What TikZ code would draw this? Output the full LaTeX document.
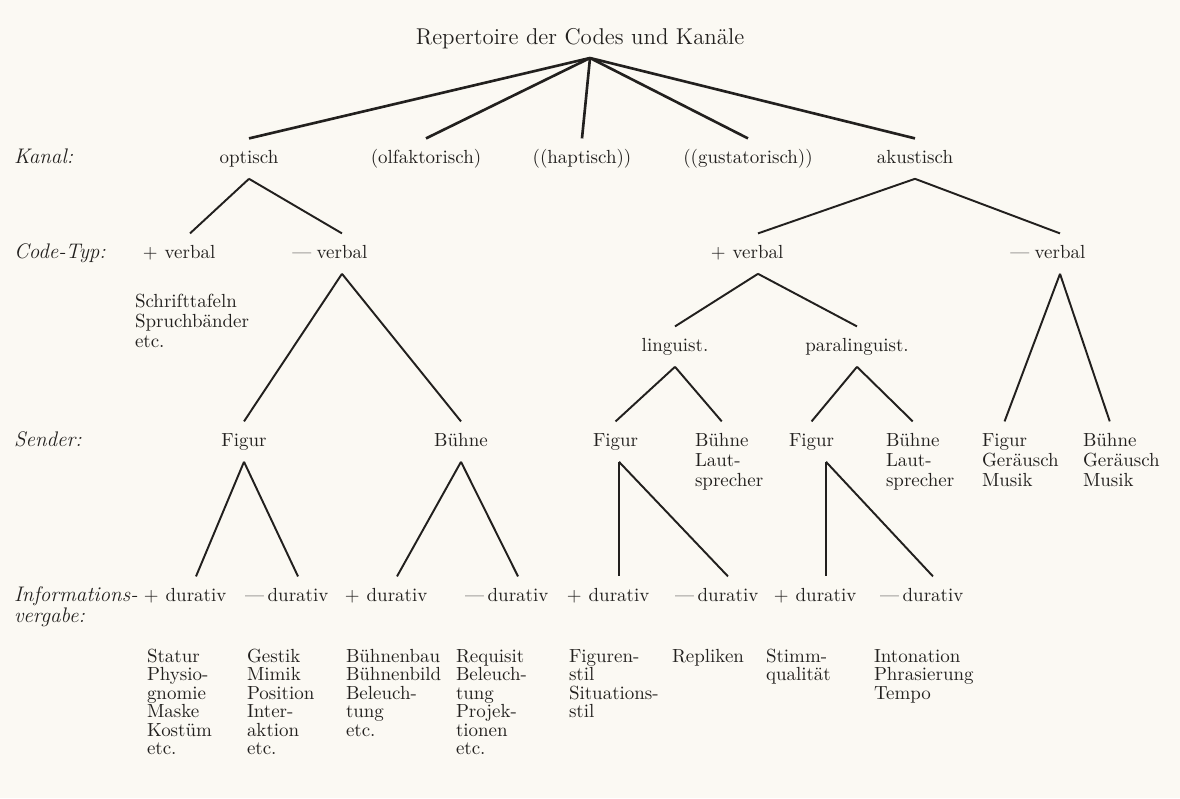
\documentclass[tikz,border=0pt]{standalone}
\usepackage{xcolor}
\usepackage{amssymb}

\definecolor{paper}{RGB}{251,249,243}
\definecolor{ink}{RGB}{34,32,30}

\tikzset{
    word/.style={inner sep=0pt, outer xsep=0pt, outer ysep=7pt,
        text height=7pt, text depth=2pt, text=ink,
        font=\fontsize{10.8}{12}\selectfont},
    head/.style={word, font=\fontsize{12}{13}\selectfont\itshape},
    branch/.style={draw=ink, line width=1.1pt},
    stem/.style={draw=ink, line width=1.5pt}
}

% one column of words, left aligned, one node per line
\newcommand{\wordcolumn}[5][18.5]{%
    \foreach \w [count=\i from 0] in {#5}
        \node[word, anchor=base west] (#2-\i) at (#3, #4+#1*\i) {\w};
}

\begin{document}
\begin{tikzpicture}[x=0.02cm, y=-0.02cm]

    % Paper
    \fill[paper] (0,0) rectangle (1180,798);
    \useasboundingbox (0,0) rectangle (1180,798);

    % Top of the tree
    \node[word, anchor=base, font=\fontsize{13}{14}\selectfont] (title) at (580,44)
        {Repertoire der Codes und Kan\"ale};
    \coordinate (root) at (590,58);

    % Row labels
    \node[head, anchor=base west] (kanal) at (14,163) {Kanal:};
    \node[head, anchor=base west] (codetyp) at (14,258) {Code-Typ:};
    \node[head, anchor=base west] (sender) at (14,446) {Sender:};
    \node[head, anchor=base west] (info-0) at (14,601) {Informations-};
    \node[head, anchor=base west] (info-1) at (14,622) {vergabe:};

    % Kanal
    \foreach \nm/\x/\txt in {optisch/249/{optisch}, olf/426/{(olfaktorisch)},
        hapt/582/{((haptisch))}, gust/748/{((gustatorisch))}, akust/915/{akustisch}} {
        \node[word, anchor=base] (\nm) at (\x,163) {\txt};
        \draw[stem] (root) -- (\nm.north);
    }

    % Code-Typ: the sign stands left of the word
    \foreach \nm/\x/\sg/\gap in {ovp/190/+/4, ovm/342/---/3, avp/758/+/4, avm/1060/---/3} {
        \node[word, anchor=base] (\nm) at (\x,258) {verbal};
        \node[word, anchor=base east] (\nm-s) at ([xshift=-\gap pt]\nm.base west) {\sg};
    }
    \draw[branch] (optisch.south) -- (ovp.north);
    \draw[branch] (optisch.south) -- (ovm.north);
    \draw[branch] (akust.south) -- (avp.north);
    \draw[branch] (akust.south) -- (avm.north);

    \wordcolumn[20]{schrift}{135}{307}{Schrifttafeln,Spruchb\"ander,etc.}

    % linguistisch / paralinguistisch
    \node[word, anchor=base] (ling) at (675,351) {linguist.};
    \node[word, anchor=base] (para) at (857,351) {paralinguist.};
    \draw[branch] (avp.south) -- (ling.north);
    \draw[branch] (avp.south) -- (para.north);

    % Sender
    \node[word, anchor=base] (ofig) at (244,446) {Figur};
    \node[word, anchor=base] (obue) at (461,446) {B\"uhne};
    \draw[branch] (ovm.south) -- (ofig.north);
    \draw[branch] (ovm.south) -- (obue.north);

    \wordcolumn[20]{lfig}{593}{446}{Figur}
    \wordcolumn[20]{lbue}{695}{446}{B\"uhne,Laut-,sprecher}
    \wordcolumn[20]{pfig}{789}{446}{Figur}
    \wordcolumn[20]{pbue}{886}{446}{B\"uhne,Laut-,sprecher}
    \wordcolumn[20]{afig}{982}{446}{Figur,Ger\"ausch,Musik}
    \wordcolumn[20]{abue}{1083}{446}{B\"uhne,Ger\"ausch,Musik}
    \draw[branch] (ling.south) -- (lfig-0.north);
    \draw[branch] (ling.south) -- (lbue-0.north);
    \draw[branch] (para.south) -- (pfig-0.north);
    \draw[branch] (para.south) -- (pbue-0.north);
    \draw[branch] (avm.south) -- (afig-0.north);
    \draw[branch] (avm.south) -- (abue-0.north);

    % Informationsvergabe
    \foreach \nm/\x/\sg/\gap in {ofp/196/+/4, ofm/298/---/2, obp/397/+/4, obm/518/---/2,
        lp/619/+/4, lm/728/---/2, pp/826/+/4, pm/933/---/2} {
        \node[word, anchor=base] (\nm) at (\x,601) {durativ};
        \node[word, anchor=base east] (\nm-s) at ([xshift=-\gap pt]\nm.base west) {\sg};
    }

    \draw[branch] (ofig.south) -- (ofp.north);
    \draw[branch] (ofig.south) -- (ofm.north);
    \draw[branch] (obue.south) -- (obp.north);
    \draw[branch] (obue.south) -- (obm.north);
    \draw[branch] (lp.north |- lfig-0.south) -- (lp.north);
    \draw[branch] (lp.north |- lfig-0.south) -- (lm.north);
    \draw[branch] (pp.north |- pfig-0.south) -- (pp.north);
    \draw[branch] (pp.north |- pfig-0.south) -- (pm.north);

    % Beispiele
    \wordcolumn{statur}{147}{662}{Statur,Physio-,gnomie,Maske,Kost\"um,etc.}
    \wordcolumn{gestik}{247}{662}{Gestik,Mimik,Position,Inter-,aktion,etc.}
    \wordcolumn{bau}{346}{662}{B\"uhnenbau,B\"uhnenbild,Beleuch-,tung,etc.}
    \wordcolumn{requisit}{456}{662}{Requisit,Beleuch-,tung,Projek-,tionen,etc.}
    \wordcolumn{figstil}{569}{662}{Figuren-,stil,Situations-,stil}
    \wordcolumn{repliken}{672}{662}{Repliken}
    \wordcolumn{stimm}{766}{662}{Stimm-,qualit\"at}
    \wordcolumn{inton}{874}{662}{Intonation,Phrasierung,Tempo}

\end{tikzpicture}
\end{document}
